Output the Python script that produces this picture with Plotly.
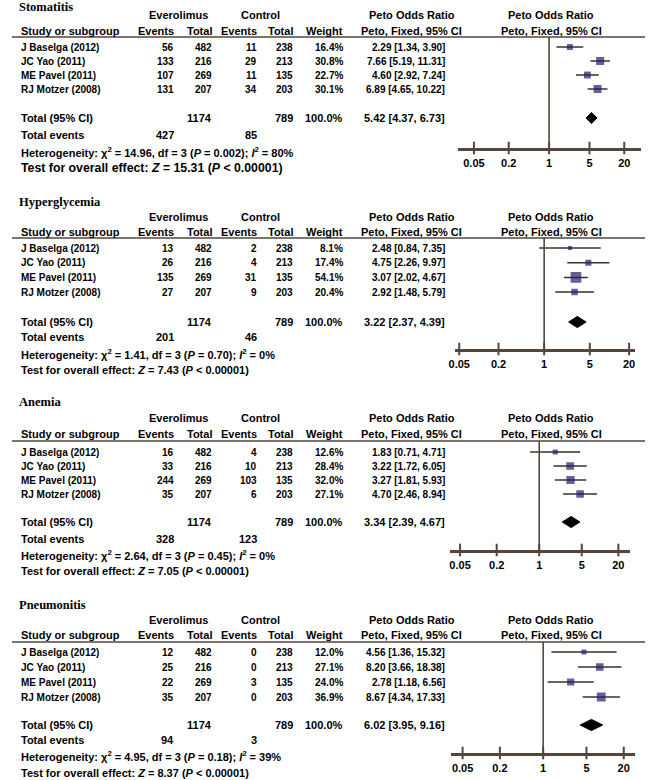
import math
import plotly.graph_objects as go

# ---------------- data ----------------
titles = ["Stomatitis", "Hyperglycemia", "Anemia", "Pneumonitis"]
studies = ["J Baselga (2012)", "JC Yao (2011)", "ME Pavel (2011)", "RJ Motzer (2008)"]
evt_total = [482, 216, 269, 207]
ctl_total = [238, 213, 135, 203]
evt_events = [[56, 133, 107, 131], [13, 26, 135, 27], [16, 33, 244, 35], [12, 25, 22, 35]]
ctl_events = [[11, 29, 11, 34], [2, 4, 31, 9], [4, 10, 103, 6], [0, 0, 3, 0]]
weights = [[16.4, 30.8, 22.7, 30.1], [8.1, 17.4, 54.1, 20.4], [12.6, 28.4, 32.0, 27.1], [12.0, 27.1, 24.0, 36.9]]
or_est = [[2.29, 7.66, 4.60, 6.89], [2.48, 4.75, 3.07, 2.92], [1.83, 3.22, 3.27, 4.70], [4.56, 8.20, 2.78, 8.67]]
or_lo = [[1.34, 5.19, 2.92, 4.65], [0.84, 2.26, 2.02, 1.48], [0.71, 1.72, 1.81, 2.46], [1.36, 3.66, 1.18, 4.34]]
or_hi = [[3.90, 11.31, 7.24, 10.22], [7.35, 9.97, 4.67, 5.79], [4.71, 6.05, 5.93, 8.94], [15.32, 18.38, 6.56, 17.33]]
tot_est = [5.42, 3.22, 3.34, 6.02]
tot_lo = [4.37, 2.37, 2.39, 3.95]
tot_hi = [6.73, 4.39, 4.67, 9.16]
tot_evt_events = [427, 201, 328, 94]
tot_ctl_events = [85, 46, 123, 3]
tot_evt_n = 1174
tot_ctl_n = 789
het_chi2 = ["14.96", "1.41", "2.64", "4.95"]
het_p = ["0.002", "0.70", "0.45", "0.18"]
het_i2 = [80, 0, 0, 39]
z_val = ["15.31", "7.43", "7.05", "8.37"]
tick_vals = [0.05, 0.2, 1, 5, 20]
tick_labels = ["0.05", "0.2", "1", "5", "20"]

# ---------------- layout (pixels) ----------------
W, H = 651, 780
panel_title_y = [7, 202, 402, 605]
panel_group_y = [15, 217, 418, 620]
panel_head_y = [31, 232, 434, 635]
panel_line_y = [37, 238, 441, 642]
panel_row0_y = [47, 248, 452, 652]
panel_row_step = [14.0, 14.7, 14.0, 15.0]
panel_total_y = [118, 322, 522, 725]
panel_totev_y = [135, 337, 539, 740]
panel_het_y = [152, 354, 555, 756]
panel_test_y = [168, 370, 571, 773]
panel_test_size = [12.3, 11, 11, 11]
panel_axis_y = [148, 349, 550, 753]
forest_one_x = [548, 543, 538, 542]
forest_decade_px = [58.4, 66.0, 61.5, 62.6]
forest_left_x = [456, 453, 448, 449]
forest_right_x = [641, 635, 630, 635]

col_title_x = 12
col_name_x = 14
col_head_x = 14
col_ev_x = 169
col_et_x = 207
col_cv_x = 253
col_ct_x = 289
col_w_x = 340
col_or_x = 443
col_or_head_x = 409
col_forest_head_x = 550

LC = "#54463c"
NAVY = "#221d6e"
FONT = "Liberation Sans, Arial, sans-serif"
SERIF = "Liberation Serif, Times New Roman, serif"


def xp(px):
    return px / W


def yp(py):
    return 1 - py / H


fig = go.Figure()
annotations = []
shapes = []


def txt(x, y, text, size=10, xanchor="left", xref="paper", yref="paper", family=FONT):
    annotations.append(dict(
        x=x, y=y, xref=xref, yref=yref, text=text, showarrow=False,
        xanchor=xanchor, yanchor="middle",
        font=dict(family=family, size=size, color="#000000", weight="bold"),
        borderpad=0, borderwidth=0,
    ))


layout_axes = {}
for k in range(4):
    n = k + 1
    xname = "x" if n == 1 else f"x{n}"
    yname = "y" if n == 1 else f"y{n}"
    xkey = "xaxis" if n == 1 else f"xaxis{n}"
    ykey = "yaxis" if n == 1 else f"yaxis{n}"

    r0 = panel_row0_y[k]
    s = panel_row_step[k]
    A = panel_axis_y[k]
    L = panel_line_y[k]
    y_bottom = (A - r0) / s
    y_top = (L - r0) / s
    t_row = (panel_total_y[k] - r0) / s

    c = forest_one_x[k]
    d = forest_decade_px[k]
    lo_log = -(c - forest_left_x[k]) / d
    hi_log = (forest_right_x[k] - c) / d

    layout_axes[xkey] = dict(
        type="log", range=[lo_log, hi_log],
        domain=[xp(forest_left_x[k]), xp(forest_right_x[k])],
        anchor=yname, showgrid=False, zeroline=False,
        showline=True, linecolor=LC, linewidth=2.5,
        ticks="", tickvals=tick_vals, ticktext=tick_labels,
        tickfont=dict(family=FONT, size=11, color="#000000", weight="bold"),
        ticklabelstandoff=3, fixedrange=True,
    )
    layout_axes[ykey] = dict(
        range=[y_bottom, y_top], domain=[yp(A), yp(L)], anchor=xname,
        visible=False, showgrid=False, zeroline=False, fixedrange=True,
    )

    # line of no effect and header rule
    shapes.append(dict(type="line", xref=xname, yref=f"{yname} domain",
                       x0=1, x1=1, y0=0, y1=1, line=dict(color=LC, width=1.6)))
    shapes.append(dict(type="line", xref="paper", yref="paper",
                       x0=xp(5), x1=xp(645), y0=yp(L), y1=yp(L),
                       line=dict(color=LC, width=1.6)))

    # confidence intervals
    cx, cy = [], []
    for i in range(4):
        cx += [or_lo[k][i], or_hi[k][i], None]
        cy += [i, i, None]
    fig.add_trace(go.Scatter(x=cx, y=cy, xaxis=xname, yaxis=yname, mode="lines",
                             line=dict(color="#3a302a", width=1.5), hoverinfo="skip",
                             cliponaxis=False))
    # study squares
    fig.add_trace(go.Scatter(x=or_est[k], y=list(range(4)), xaxis=xname, yaxis=yname,
                             mode="markers",
                             marker=dict(symbol="square", color=NAVY,
                                         size=[1.45 * math.sqrt(w) for w in weights[k]],
                                         line=dict(width=0)),
                             hoverinfo="skip"))
    # pooled diamond
    h = 5.6 / s
    fig.add_trace(go.Scatter(x=[tot_lo[k], tot_est[k], tot_hi[k], tot_est[k], tot_lo[k]],
                             y=[t_row, t_row - h, t_row, t_row + h, t_row],
                             xaxis=xname, yaxis=yname, mode="lines", fill="toself",
                             fillcolor="#000000", line=dict(color="#000000", width=1),
                             hoverinfo="skip"))
    # axis ticks crossing the axis line
    fig.add_trace(go.Scatter(x=tick_vals, y=[y_bottom] * len(tick_vals), xaxis=xname, yaxis=yname,
                             mode="markers", cliponaxis=False,
                             marker=dict(symbol="line-ns", size=9, line=dict(color=LC, width=2)),
                             hoverinfo="skip"))

    # ---- table text ----
    txt(xp(col_title_x), yp(panel_title_y[k]), titles[k], size=12.5, family=SERIF)
    txt(xp(173), yp(panel_group_y[k]), "Everolimus", size=11, xanchor="center")
    txt(xp(256), yp(panel_group_y[k]), "Control", size=11, xanchor="center")
    txt(xp(col_or_head_x), yp(panel_group_y[k]), "Peto Odds Ratio", size=11, xanchor="center")
    txt(xp(col_forest_head_x), yp(panel_group_y[k]), "Peto Odds Ratio", size=11, xanchor="center")
    hy = yp(panel_head_y[k])
    txt(xp(col_head_x), hy, "Study or subgroup", size=11)
    txt(xp(col_ev_x), hy, "Events", size=11, xanchor="right")
    txt(xp(col_et_x), hy, "Total", size=11, xanchor="right")
    txt(xp(col_cv_x), hy, "Events", size=11, xanchor="right")
    txt(xp(col_ct_x), hy, "Total", size=11, xanchor="right")
    txt(xp(col_w_x), hy, "Weight", size=11, xanchor="right")
    txt(xp(col_or_head_x), hy, "Peto, Fixed, 95% CI", size=11, xanchor="center")
    txt(xp(col_forest_head_x), hy, "Peto, Fixed, 95% CI", size=11, xanchor="center")

    for i in range(4):
        txt(xp(col_name_x), i, studies[i], size=10, yref=yname)
        txt(xp(col_ev_x), i, str(evt_events[k][i]), size=10, xanchor="right", yref=yname)
        txt(xp(col_et_x), i, str(evt_total[i]), size=10, xanchor="right", yref=yname)
        txt(xp(col_cv_x), i, str(ctl_events[k][i]), size=10, xanchor="right", yref=yname)
        txt(xp(col_ct_x), i, str(ctl_total[i]), size=10, xanchor="right", yref=yname)
        txt(xp(col_w_x), i, f"{weights[k][i]:.1f}%", size=10, xanchor="right", yref=yname)
        txt(xp(col_or_x), i, f"{or_est[k][i]:.2f} [{or_lo[k][i]:.2f}, {or_hi[k][i]:.2f}]",
            size=10, xanchor="right", yref=yname)

    txt(xp(col_name_x), t_row, "Total (95% CI)", size=11, yref=yname)
    txt(xp(col_et_x), t_row, str(tot_evt_n), size=11, xanchor="right", yref=yname)
    txt(xp(col_ct_x), t_row, str(tot_ctl_n), size=11, xanchor="right", yref=yname)
    txt(xp(col_w_x), t_row, "100.0%", size=11, xanchor="right", yref=yname)
    txt(xp(col_or_x), t_row, f"{tot_est[k]:.2f} [{tot_lo[k]:.2f}, {tot_hi[k]:.2f}]",
        size=11, xanchor="right", yref=yname)

    ty = yp(panel_totev_y[k])
    txt(xp(col_name_x), ty, "Total events", size=11)
    txt(xp(col_ev_x), ty, str(tot_evt_events[k]), size=11, xanchor="right")
    txt(xp(col_cv_x), ty, str(tot_ctl_events[k]), size=11, xanchor="right")
    txt(xp(col_name_x), yp(panel_het_y[k]),
        f"Heterogeneity: χ<sup>2</sup> = {het_chi2[k]}, df = 3 (<i>P</i> = {het_p[k]}); "
        f"<i>I</i><sup>2</sup> = {het_i2[k]}%", size=11)
    txt(xp(col_name_x), yp(panel_test_y[k]),
        f"Test for overall effect: <i>Z</i> = {z_val[k]} (<i>P</i> &lt; 0.00001)",
        size=panel_test_size[k])

fig.update_layout(
    width=W, height=H, margin=dict(l=0, r=0, t=0, b=0),
    paper_bgcolor="#ffffff", plot_bgcolor="rgba(0,0,0,0)",
    showlegend=False, annotations=annotations, shapes=shapes,
    **layout_axes,
)

fig.write_html("out.html", config={"displayModeBar": False},
               post_script="document.body.style.margin='0';")
